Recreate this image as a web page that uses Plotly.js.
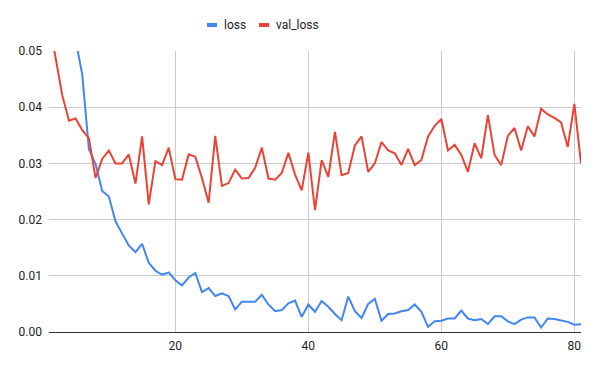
<!DOCTYPE html>
<html>
<head>
<meta charset="utf-8">
<script src="https://cdn.plot.ly/plotly-3.0.1.min.js"></script>
<style>html,body{margin:0;padding:0;background:#fff;}#chart{width:600px;height:371px;}</style>
</head>
<body>
<div id="chart"></div>
<script>
const epochs = [1,2,3,4,5,6,7,8,9,10,11,12,13,14,15,16,17,18,19,20,21,22,23,24,25,26,27,28,29,30,31,32,33,34,35,36,37,38,39,40,41,42,43,44,45,46,47,48,49,50,51,52,53,54,55,56,57,58,59,60,61,62,63,64,65,66,67,68,69,70,71,72,73,74,75,76,77,78,79,80,81];

const loss = [0.2000,0.1100,0.0750,0.0600,0.0520,0.0458,0.0325,0.0299,0.0251,0.0241,
  0.0197,0.0175,0.0154,0.0142,0.0157,0.0123,0.0109,0.0102,0.0106,0.0092,
  0.0083,0.0097,0.0105,0.0071,0.0078,0.0064,0.0069,0.0064,0.0040,0.0054,
  0.0054,0.0054,0.0066,0.0049,0.0037,0.0039,0.0051,0.0056,0.0027,0.0049,
  0.0036,0.0055,0.0045,0.0032,0.0021,0.0063,0.0037,0.0025,0.0050,0.0059,
  0.0020,0.0032,0.0033,0.0037,0.0039,0.0049,0.0036,0.0009,0.0019,0.0020,
  0.0024,0.0024,0.0038,0.0024,0.0021,0.0023,0.0014,0.0028,0.0028,0.0019,
  0.0014,0.0022,0.0026,0.0026,0.0008,0.0024,0.0023,0.0020,0.0018,0.0013,
  0.0014];

const valLoss = [0.0553,0.0487,0.0421,0.0376,0.0380,0.0359,0.0345,0.0274,0.0308,0.0323,
  0.0300,0.0300,0.0316,0.0264,0.0348,0.0227,0.0304,0.0297,0.0328,0.0272,
  0.0271,0.0316,0.0312,0.0274,0.0230,0.0349,0.0260,0.0265,0.0289,0.0273,
  0.0274,0.0292,0.0328,0.0273,0.0271,0.0283,0.0319,0.0280,0.0252,0.0319,
  0.0217,0.0306,0.0276,0.0356,0.0279,0.0283,0.0332,0.0348,0.0285,0.0300,
  0.0338,0.0323,0.0318,0.0297,0.0326,0.0297,0.0306,0.0348,0.0367,0.0379,
  0.0323,0.0333,0.0315,0.0285,0.0336,0.0309,0.0386,0.0315,0.0297,0.0349,
  0.0363,0.0323,0.0366,0.0348,0.0397,0.0387,0.0381,0.0373,0.0329,0.0406,
  0.0300];

const seriesNames = ['loss', 'val_loss'];
const seriesColors = ['#4285F4', '#EA4335'];
const xTicks = [20, 40, 60, 80];
const yTicks = [0, 0.01, 0.02, 0.03, 0.04, 0.05];

const traces = [
  {x: epochs, y: loss, name: seriesNames[0], type: 'scatter', mode: 'lines',
   line: {color: seriesColors[0], width: 2}, showlegend: false},
  {x: epochs, y: valLoss, name: seriesNames[1], type: 'scatter', mode: 'lines',
   line: {color: seriesColors[1], width: 2}, showlegend: false}
];

// legend drawn in paper coordinates (plot area: 49..581 x, 51..332 y)
const W = 532, H = 281, L = 49, T = 51;
function px(x) { return (x - L) / W; }
function py(y) { return (T + H - y) / H; }

const legendItems = [
  {mark0: 207, mark1: 217, text0: 223},
  {mark0: 259, mark1: 269, text0: 275}
];
const shapes = legendItems.map((it, i) => ({
  type: 'rect', xref: 'paper', yref: 'paper',
  x0: px(it.mark0), x1: px(it.mark1), y0: py(27), y1: py(23),
  fillcolor: seriesColors[i], line: {width: 0}
}));
const annotations = legendItems.map((it, i) => ({
  text: seriesNames[i], xref: 'paper', yref: 'paper',
  x: px(it.text0), y: py(25.5), xanchor: 'left', yanchor: 'middle',
  showarrow: false, font: {family: 'Roboto, Arial, sans-serif', size: 12, color: '#222'},
  borderpad: 0
}));

const layout = {
  width: 600, height: 371,
  margin: {l: 49, r: 19, t: 51, b: 39, pad: 0},
  paper_bgcolor: '#ffffff', plot_bgcolor: '#ffffff',
  font: {family: 'Roboto, Arial, sans-serif', size: 12, color: '#222'},
  showlegend: false,
  xaxis: {
    range: [1, 81], tickvals: xTicks, ticktext: xTicks.map(String),
    showgrid: true, gridcolor: '#cccccc', gridwidth: 1,
    zeroline: false, showline: true, linecolor: '#333333', linewidth: 1,
    ticks: '', ticklabelstandoff: 3,
    tickfont: {family: 'Roboto, Arial, sans-serif', size: 12, color: '#222'}
  },
  yaxis: {
    range: [0, 0.05], tickvals: yTicks, tickformat: '.2f',
    showgrid: true, gridcolor: '#cccccc', gridwidth: 1,
    zeroline: false, showline: false,
    ticks: '', ticklabelstandoff: 6,
    tickfont: {family: 'Roboto, Arial, sans-serif', size: 12, color: '#222'}
  },
  shapes: shapes,
  annotations: annotations
};

Plotly.newPlot('chart', traces, layout, {displayModeBar: false, staticPlot: true});
</script>
</body>
</html>
